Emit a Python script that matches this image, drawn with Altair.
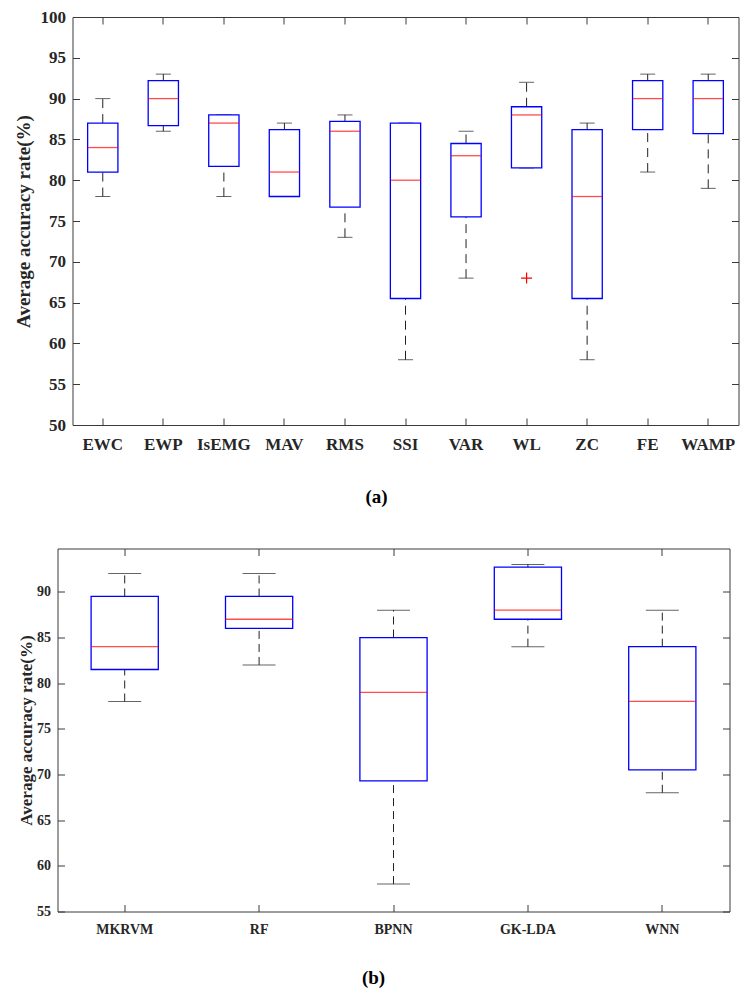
import altair as alt
import pandas as pd

# ---------------- data: panel (a) ----------------
cats_a = ["EWC", "EWP", "IsEMG", "MAV", "RMS", "SSI", "VAR", "WL", "ZC", "FE", "WAMP"]
lower_a = [78, 86, 78, 78, 73, 58, 68, 81.5, 58, 81, 79]
q1_a = [81, 86.7, 81.7, 78, 76.7, 65.5, 75.5, 81.5, 65.5, 86.2, 85.7]
median_a = [84, 90, 87, 81, 86, 80, 83, 88, 78, 90, 90]
q3_a = [87, 92.2, 88, 86.2, 87.2, 87, 84.5, 89, 86.2, 92.2, 92.2]
upper_a = [90, 93, 88, 87, 88, 87, 86, 92, 87, 93, 93]
outlier_cat_a = ["WL"]
outlier_val_a = [68]
yticks_a = [50, 55, 60, 65, 70, 75, 80, 85, 90, 95, 100]

# ---------------- data: panel (b) ----------------
cats_b = ["MKRVM", "RF", "BPNN", "GK-LDA", "WNN"]
lower_b = [78, 82, 58, 84, 68]
q1_b = [81.5, 86, 69.3, 87, 70.5]
median_b = [84, 87, 79, 88, 78]
q3_b = [89.5, 89.5, 85, 92.7, 84]
upper_b = [92, 92, 88, 93, 88]
yticks_b = [55, 60, 65, 70, 75, 80, 85, 90]

FONT = "Liberation Serif"
FRAME = "#3a3a3a"
TXT = "#262626"
YTITLE = "Average accuracy rate(%)"


def panel(cats, lower, q1, med, q3, upper, out_cat, out_val, ydom, yticks,
          W, H, cap_w, med_w, lab_size, title_size, title_pad, xlab_pad,
          dash, caption, cap_offset):
    df = pd.DataFrame({"cat": cats, "lower": lower, "q1": q1, "median": med,
                       "q3": q3, "upper": upper})
    xscale = alt.Scale(type="band", domain=cats, paddingInner=0, paddingOuter=0)
    yscale = alt.Scale(domain=ydom, nice=False, zero=False)

    ax_bottom = alt.Axis(orient="bottom", offset=-7, tickSize=7, tickColor=FRAME,
                         tickWidth=1, domain=False, grid=False, labelAngle=0,
                         labelFont=FONT, labelFontSize=lab_size, labelFontWeight="bold",
                         labelColor=TXT, labelPadding=xlab_pad, title=None)
    ax_left = alt.Axis(orient="left", values=yticks, offset=-7, tickSize=7,
                       tickColor=FRAME, tickWidth=1, domain=False, grid=False,
                       labelFont=FONT, labelFontSize=lab_size, labelFontWeight="bold",
                       labelColor=TXT, labelPadding=7, labelFlush=False,
                       title=YTITLE, titleFont=FONT, titleFontSize=title_size,
                       titleFontWeight="bold", titleColor=TXT, titlePadding=title_pad)
    ax_top = alt.Axis(orient="top", offset=-7, tickSize=7, tickColor=FRAME,
                      tickWidth=1, domain=False, grid=False, labels=False, title=None)
    ax_right = alt.Axis(orient="right", values=yticks, offset=-7, tickSize=7,
                        tickColor=FRAME, tickWidth=1, domain=False, grid=False,
                        labels=False, title=None)

    def X(axis):
        return alt.X("cat:N", sort=cats, scale=xscale, axis=axis)

    def Y(field, axis=None):
        return alt.Y(f"{field}:Q", scale=yscale, axis=axis)

    base = alt.Chart(df)
    w_up = base.mark_rule(color="#222222", strokeWidth=1, strokeDash=dash).encode(
        x=X(ax_bottom), y=Y("q3", ax_left), y2="upper:Q")
    w_lo = base.mark_rule(color="#222222", strokeWidth=1, strokeDash=dash).encode(
        x=X(None), y=Y("lower"), y2="q1:Q")
    cap_up = base.mark_tick(color="#222222", size=cap_w, thickness=1).encode(
        x=X(None), y=Y("upper"))
    cap_lo = base.mark_tick(color="#222222", size=cap_w, thickness=1).encode(
        x=X(None), y=Y("lower"))
    box = base.mark_bar(fill="white", stroke="#0000ff", strokeWidth=1.3,
                        width=alt.RelativeBandSize(0.5)).encode(
        x=X(ax_top), y=Y("q1", ax_right), y2="q3:Q")
    medl = base.mark_tick(color="#ff0000", size=med_w, thickness=1.3).encode(
        x=X(None), y=Y("median"))
    layers = [w_up, w_lo, cap_up, cap_lo, box, medl]
    if out_cat:
        dfo = pd.DataFrame({"cat": out_cat, "value": out_val})
        outl = alt.Chart(dfo).mark_point(
            shape="M-1,0L1,0M0,-1L0,1", filled=False, stroke="#ff0000",
            strokeWidth=1.2, size=121, opacity=1).encode(x=X(None), y=Y("value"))
        layers.append(outl)
    return alt.layer(*layers).properties(
        width=W, height=H,
        title=alt.TitleParams(text=caption, orient="bottom", anchor="middle",
                              frame="bounds", offset=cap_offset, font=FONT,
                              fontSize=19, fontWeight="bold", color="black"))


chart_a = panel(cats_a, lower_a, q1_a, median_a, q3_a, upper_a,
                outlier_cat_a, outlier_val_a, [50, 100], yticks_a,
                666, 408, 15, 30, 17, 19, 7, 11, [9, 6], "(a)", 35.5)
chart_b = panel(cats_b, lower_b, q1_b, median_b, q3_b, upper_b,
                [], [], [55, 94.75], yticks_b,
                672, 363, 33, 67, 14, 17, 1.5, 11, [8, 5], "(b)", 32)

spacer = alt.Chart(pd.DataFrame({"s": [0]})).mark_point(opacity=0).encode(
    x=alt.X("s:Q", axis=None), y=alt.Y("s:Q", axis=None)
).properties(width=1, height=1, view=alt.ViewBackground(strokeOpacity=0))

top_row = alt.hconcat(spacer, chart_a, spacing=14, bounds="flush")

chart = alt.vconcat(top_row, chart_b, spacing=40.5).properties(
    padding={"left": 5.5, "top": -1, "right": 5, "bottom": 5}
).configure_view(stroke=FRAME, strokeWidth=1)

chart.save("out.html", embed_options={"renderer": "svg", "actions": False})
